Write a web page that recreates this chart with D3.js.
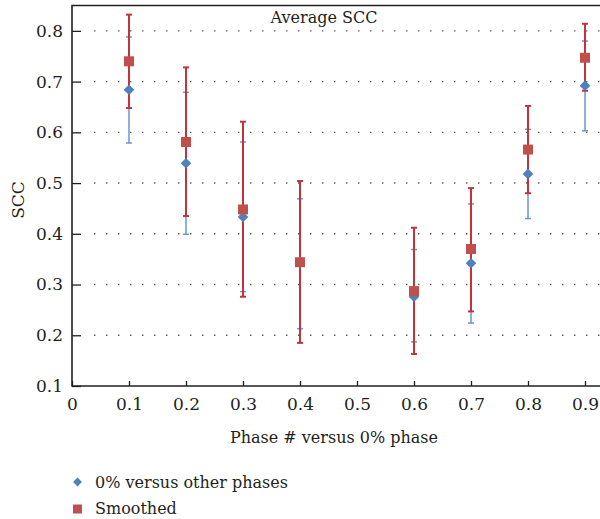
<!DOCTYPE html>
<html>
<head>
<meta charset="utf-8">
<script src="https://cdn.jsdelivr.net/npm/d3@7"></script>
<style>
  body { margin: 0; background: #fff; }
  svg text { font-family: "DejaVu Serif", "Liberation Serif", serif; fill: #231f20; }
</style>
</head>
<body>
<svg class="plot" width="600" height="519"></svg>
<script>
  // phases compared against 0% phase
  var phases = [0.1, 0.2, 0.3, 0.4, 0.6, 0.7, 0.8, 0.9]
  // 0% versus other phases
  var rawMean = [0.684, 0.539, 0.433, 0.342, 0.276, 0.342, 0.518, 0.692]
  var rawLow = [0.579, 0.399, 0.286, 0.213, 0.187, 0.224, 0.430, 0.603]
  var rawHigh = [0.788, 0.679, 0.581, 0.469, 0.369, 0.459, 0.606, 0.780]
  // smoothed
  var smoothMean = [0.740, 0.581, 0.448, 0.344, 0.287, 0.370, 0.566, 0.747]
  var smoothLow = [0.648, 0.435, 0.276, 0.185, 0.163, 0.247, 0.480, 0.682]
  var smoothHigh = [0.832, 0.728, 0.621, 0.504, 0.412, 0.490, 0.652, 0.814]

  var xTicks = [0, 0.1, 0.2, 0.3, 0.4, 0.5, 0.6, 0.7, 0.8, 0.9]
  var yTicks = [0.1, 0.2, 0.3, 0.4, 0.5, 0.6, 0.7, 0.8]
  var gridTicks = [0.2, 0.3, 0.4, 0.5, 0.6, 0.7, 0.8]

  var margin = { top: 5.5, right: 0, bottom: 133, left: 72 }
  var width = 600, height = 519
  const svg = d3.select("svg.plot")

  const x = d3.scaleLinear().domain([0, 0.9]).range([margin.left, 585])
  const y = d3.scaleLinear().domain([0.1, 0.85]).range([386, margin.top])

  // dotted gridlines
  svg.append("g").selectAll("line")
    .data(gridTicks)
    .join("line")
    .attr("x1", margin.left + 22)
    .attr("x2", width)
    .attr("y1", d => y(d))
    .attr("y2", d => y(d))
    .attr("stroke", "#58595b")
    .attr("stroke-width", 1.4)
    .attr("stroke-dasharray", "1.4,10.6")

  // axes
  let leftAxis = d3.axisLeft(y).tickValues(yTicks).tickFormat(d3.format(".1f"))
    .tickSizeInner(-9).tickSizeOuter(0).tickPadding(9)
  let bottomAxis = d3.axisBottom(x).tickValues(xTicks).tickFormat(d => d == 0 ? "0" : d3.format(".1f")(d))
    .tickSizeInner(-5).tickSizeOuter(0).tickPadding(12)

  var gy = svg.append("g")
    .attr("transform", "translate(" + margin.left + ",0)")
    .call(leftAxis)
  var gx = svg.append("g")
    .attr("transform", "translate(0," + y(0.1) + ")")
    .call(bottomAxis)
  svg.selectAll(".domain").remove()
  svg.selectAll(".tick line").attr("stroke", "#231f20").attr("stroke-width", 1.3)
  svg.selectAll(".tick text").attr("font-size", 17).attr("fill", "#231f20")
    .style("font-family", "'DejaVu Serif', serif")

  // frame: left, bottom, top
  svg.append("path")
    .attr("d", "M" + width + "," + y(0.1) + "H" + margin.left + "V" + margin.top + "H" + width)
    .attr("fill", "none")
    .attr("stroke", "#231f20")
    .attr("stroke-width", 1.6)

  // error bars
  function errorBars(lo, hi, color, sw) {
    var g = svg.append("g").attr("stroke", color).attr("stroke-width", sw)
    phases.forEach((p, i) => {
      g.append("line").attr("x1", x(p)).attr("x2", x(p)).attr("y1", y(lo[i])).attr("y2", y(hi[i]))
      g.append("line").attr("x1", x(p) - 3).attr("x2", x(p) + 3).attr("y1", y(lo[i])).attr("y2", y(lo[i]))
      g.append("line").attr("x1", x(p) - 3).attr("x2", x(p) + 3).attr("y1", y(hi[i])).attr("y2", y(hi[i]))
    })
  }
  errorBars(rawLow, rawHigh, "#6a97cc", 1.5)
  errorBars(smoothLow, smoothHigh, "#c4323a", 2)

  const diamond = d3.symbol().type(d3.symbolDiamond2).size(72)
  const square = d3.symbol().type(d3.symbolSquare).size(100)

  svg.append("g").selectAll("path")
    .data(phases)
    .join("path")
    .attr("d", diamond)
    .attr("transform", (d, i) => "translate(" + x(d) + "," + y(rawMean[i]) + ")")
    .attr("fill", "#4f81bd")

  svg.append("g").selectAll("path")
    .data(phases)
    .join("path")
    .attr("d", square)
    .attr("transform", (d, i) => "translate(" + x(d) + "," + y(smoothMean[i]) + ")")
    .attr("fill", "#c0504d")

  // texts
  svg.append("text")
    .attr("x", 324)
    .attr("y", 23)
    .attr("text-anchor", "middle")
    .attr("font-size", 16)
    .text("Average SCC")
  svg.append("text")
    .attr("transform", "translate(24,200) rotate(-90)")
    .attr("text-anchor", "middle")
    .attr("font-size", 17)
    .text("SCC")
  svg.append("text")
    .attr("x", 334)
    .attr("y", 443)
    .attr("text-anchor", "middle")
    .attr("font-size", 16)
    .text("Phase # versus 0% phase")

  // legend
  svg.append("path")
    .attr("d", d3.symbol().type(d3.symbolDiamond2).size(50))
    .attr("transform", "translate(77.5,482)")
    .attr("fill", "#4f81bd")
  svg.append("text")
    .attr("x", 95)
    .attr("y", 488)
    .attr("font-size", 16)
    .text("0% versus other phases")
  svg.append("path")
    .attr("d", d3.symbol().type(d3.symbolSquare).size(81))
    .attr("transform", "translate(77.5,509)")
    .attr("fill", "#c0504d")
  svg.append("text")
    .attr("x", 95)
    .attr("y", 514)
    .attr("font-size", 16)
    .text("Smoothed")
</script>
</body>
</html>
